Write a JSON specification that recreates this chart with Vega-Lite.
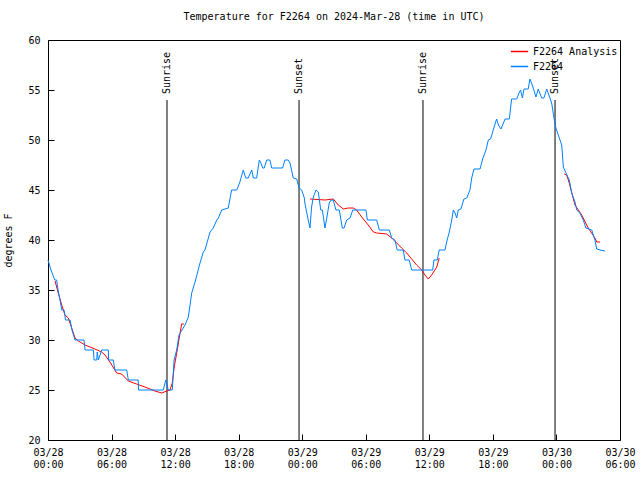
{
  "$schema": "https://vega.github.io/schema/vega-lite/v6.json",
  "width": 572,
  "height": 400,
  "autosize": "none",
  "padding": {"left": 48, "top": 40, "right": 20, "bottom": 40},
  "background": "white",
  "title": {"text": "Temperature for F2264 on 2024-Mar-28 (time in UTC)", "font": "DejaVu Sans Mono", "fontSize": 10, "fontWeight": "normal", "color": "black", "offset": 13, "anchor": "middle"},
  "config": {
    "view": {"stroke": "black", "strokeWidth": 1},
    "axis": {"grid": false, "domain": false, "tickColor": "black", "tickSize": 6, "offset": -6, "labelFont": "DejaVu Sans Mono", "labelFontSize": 10, "labelColor": "black", "titleFont": "DejaVu Sans Mono", "titleFontSize": 10, "titleFontWeight": "normal", "titleColor": "black"},
    "legend": {"labelFont": "DejaVu Sans Mono", "labelFontSize": 10, "labelColor": "black"}
  },
  "datasets": {
    "blue": [
      {"t":"2024-03-28T00:00:00Z","v":38,"s":"F2264"},{"t":"2024-03-28T00:17:00Z","v":37,"s":"F2264"},{"t":"2024-03-28T00:38:00Z","v":36,"s":"F2264"},{"t":"2024-03-28T00:49:00Z","v":36,"s":"F2264"},{"t":"2024-03-28T00:57:00Z","v":35,"s":"F2264"},{"t":"2024-03-28T01:08:00Z","v":34,"s":"F2264"},{"t":"2024-03-28T01:18:00Z","v":33,"s":"F2264"},{"t":"2024-03-28T01:31:00Z","v":33,"s":"F2264"},{"t":"2024-03-28T01:39:00Z","v":32,"s":"F2264"},{"t":"2024-03-28T02:05:00Z","v":32,"s":"F2264"},{"t":"2024-03-28T02:16:00Z","v":31,"s":"F2264"},{"t":"2024-03-28T02:33:00Z","v":30,"s":"F2264"},{"t":"2024-03-28T03:24:00Z","v":30,"s":"F2264"},{"t":"2024-03-28T03:30:00Z","v":29,"s":"F2264"},{"t":"2024-03-28T04:17:00Z","v":29,"s":"F2264"},{"t":"2024-03-28T04:21:00Z","v":28,"s":"F2264"},{"t":"2024-03-28T04:36:00Z","v":28,"s":"F2264"},{"t":"2024-03-28T04:39:00Z","v":28.8,"s":"F2264"},{"t":"2024-03-28T04:45:00Z","v":28,"s":"F2264"},{"t":"2024-03-28T04:55:00Z","v":28.5,"s":"F2264"},{"t":"2024-03-28T05:04:00Z","v":29,"s":"F2264"},{"t":"2024-03-28T05:42:00Z","v":29,"s":"F2264"},{"t":"2024-03-28T05:43:00Z","v":28,"s":"F2264"},{"t":"2024-03-28T06:10:00Z","v":28,"s":"F2264"},{"t":"2024-03-28T06:19:00Z","v":27,"s":"F2264"},{"t":"2024-03-28T07:26:00Z","v":27,"s":"F2264"},{"t":"2024-03-28T07:35:00Z","v":26,"s":"F2264"},{"t":"2024-03-28T08:31:00Z","v":26,"s":"F2264"},{"t":"2024-03-28T08:33:00Z","v":25,"s":"F2264"},{"t":"2024-03-28T10:53:00Z","v":25,"s":"F2264"},{"t":"2024-03-28T11:07:00Z","v":26,"s":"F2264"},{"t":"2024-03-28T11:16:00Z","v":25.5,"s":"F2264"},{"t":"2024-03-28T11:20:00Z","v":25,"s":"F2264"},{"t":"2024-03-28T11:44:00Z","v":25,"s":"F2264"},{"t":"2024-03-28T11:54:00Z","v":28,"s":"F2264"},{"t":"2024-03-28T12:09:00Z","v":29,"s":"F2264"},{"t":"2024-03-28T12:22:00Z","v":30.5,"s":"F2264"},{"t":"2024-03-28T12:39:00Z","v":31,"s":"F2264"},{"t":"2024-03-28T12:56:00Z","v":31.5,"s":"F2264"},{"t":"2024-03-28T13:15:00Z","v":32.3,"s":"F2264"},{"t":"2024-03-28T13:34:00Z","v":34.7,"s":"F2264"},{"t":"2024-03-28T13:53:00Z","v":35.8,"s":"F2264"},{"t":"2024-03-28T14:21:00Z","v":37.7,"s":"F2264"},{"t":"2024-03-28T14:40:00Z","v":38.8,"s":"F2264"},{"t":"2024-03-28T14:49:00Z","v":39,"s":"F2264"},{"t":"2024-03-28T15:18:00Z","v":40.8,"s":"F2264"},{"t":"2024-03-28T15:36:00Z","v":41.2,"s":"F2264"},{"t":"2024-03-28T15:56:00Z","v":42,"s":"F2264"},{"t":"2024-03-28T16:05:00Z","v":42.2,"s":"F2264"},{"t":"2024-03-28T16:24:00Z","v":43,"s":"F2264"},{"t":"2024-03-28T17:01:00Z","v":43.2,"s":"F2264"},{"t":"2024-03-28T17:20:00Z","v":45,"s":"F2264"},{"t":"2024-03-28T17:49:00Z","v":45,"s":"F2264"},{"t":"2024-03-28T18:07:00Z","v":45.8,"s":"F2264"},{"t":"2024-03-28T18:26:00Z","v":47,"s":"F2264"},{"t":"2024-03-28T18:40:00Z","v":46.2,"s":"F2264"},{"t":"2024-03-28T18:54:00Z","v":46.2,"s":"F2264"},{"t":"2024-03-28T19:14:00Z","v":47,"s":"F2264"},{"t":"2024-03-28T19:23:00Z","v":46.2,"s":"F2264"},{"t":"2024-03-28T19:42:00Z","v":46.2,"s":"F2264"},{"t":"2024-03-28T19:57:00Z","v":48,"s":"F2264"},{"t":"2024-03-28T20:06:00Z","v":47.7,"s":"F2264"},{"t":"2024-03-28T20:16:00Z","v":47.2,"s":"F2264"},{"t":"2024-03-28T20:25:00Z","v":47.2,"s":"F2264"},{"t":"2024-03-28T20:39:00Z","v":48,"s":"F2264"},{"t":"2024-03-28T20:57:00Z","v":48,"s":"F2264"},{"t":"2024-03-28T21:07:00Z","v":47.2,"s":"F2264"},{"t":"2024-03-28T22:09:00Z","v":47.2,"s":"F2264"},{"t":"2024-03-28T22:22:00Z","v":48,"s":"F2264"},{"t":"2024-03-28T22:41:00Z","v":48,"s":"F2264"},{"t":"2024-03-28T22:51:00Z","v":47.7,"s":"F2264"},{"t":"2024-03-28T23:09:00Z","v":46.2,"s":"F2264"},{"t":"2024-03-28T23:29:00Z","v":46.1,"s":"F2264"},{"t":"2024-03-28T23:42:00Z","v":45.2,"s":"F2264"},{"t":"2024-03-28T23:57:00Z","v":45,"s":"F2264"},
      {"t":"2024-03-29T00:12:00Z","v":44.2,"s":"F2264"},{"t":"2024-03-29T00:15:00Z","v":43.7,"s":"F2264"},{"t":"2024-03-29T00:34:00Z","v":42,"s":"F2264"},{"t":"2024-03-29T00:44:00Z","v":41.2,"s":"F2264"},{"t":"2024-03-29T00:53:00Z","v":43.3,"s":"F2264"},{"t":"2024-03-29T01:03:00Z","v":44.3,"s":"F2264"},{"t":"2024-03-29T01:18:00Z","v":45,"s":"F2264"},{"t":"2024-03-29T01:31:00Z","v":44.8,"s":"F2264"},{"t":"2024-03-29T01:45:00Z","v":43,"s":"F2264"},{"t":"2024-03-29T01:54:00Z","v":43,"s":"F2264"},{"t":"2024-03-29T02:09:00Z","v":41.2,"s":"F2264"},{"t":"2024-03-29T02:19:00Z","v":42.2,"s":"F2264"},{"t":"2024-03-29T02:33:00Z","v":43.7,"s":"F2264"},{"t":"2024-03-29T02:43:00Z","v":44,"s":"F2264"},{"t":"2024-03-29T02:56:00Z","v":44,"s":"F2264"},{"t":"2024-03-29T03:11:00Z","v":43,"s":"F2264"},{"t":"2024-03-29T03:30:00Z","v":43,"s":"F2264"},{"t":"2024-03-29T03:47:00Z","v":41.2,"s":"F2264"},{"t":"2024-03-29T03:57:00Z","v":41.2,"s":"F2264"},{"t":"2024-03-29T04:12:00Z","v":42,"s":"F2264"},{"t":"2024-03-29T04:31:00Z","v":42.2,"s":"F2264"},{"t":"2024-03-29T04:46:00Z","v":43,"s":"F2264"},{"t":"2024-03-29T06:01:00Z","v":43,"s":"F2264"},{"t":"2024-03-29T06:09:00Z","v":42,"s":"F2264"},{"t":"2024-03-29T07:02:00Z","v":42,"s":"F2264"},{"t":"2024-03-29T07:17:00Z","v":41,"s":"F2264"},{"t":"2024-03-29T08:13:00Z","v":41,"s":"F2264"},{"t":"2024-03-29T08:27:00Z","v":40.2,"s":"F2264"},{"t":"2024-03-29T08:45:00Z","v":40,"s":"F2264"},{"t":"2024-03-29T08:58:00Z","v":39,"s":"F2264"},{"t":"2024-03-29T09:32:00Z","v":39,"s":"F2264"},{"t":"2024-03-29T09:42:00Z","v":38,"s":"F2264"},{"t":"2024-03-29T10:06:00Z","v":38,"s":"F2264"},{"t":"2024-03-29T10:20:00Z","v":37,"s":"F2264"},{"t":"2024-03-29T12:19:00Z","v":37,"s":"F2264"},{"t":"2024-03-29T12:26:00Z","v":38,"s":"F2264"},{"t":"2024-03-29T12:45:00Z","v":38,"s":"F2264"},{"t":"2024-03-29T12:56:00Z","v":39,"s":"F2264"},{"t":"2024-03-29T13:29:00Z","v":39,"s":"F2264"},{"t":"2024-03-29T13:38:00Z","v":39.8,"s":"F2264"},{"t":"2024-03-29T13:53:00Z","v":40.8,"s":"F2264"},{"t":"2024-03-29T14:07:00Z","v":42,"s":"F2264"},{"t":"2024-03-29T14:16:00Z","v":43,"s":"F2264"},{"t":"2024-03-29T14:26:00Z","v":42.7,"s":"F2264"},{"t":"2024-03-29T14:35:00Z","v":42.2,"s":"F2264"},{"t":"2024-03-29T14:44:00Z","v":43,"s":"F2264"},{"t":"2024-03-29T14:59:00Z","v":43.1,"s":"F2264"},{"t":"2024-03-29T15:16:00Z","v":44.1,"s":"F2264"},{"t":"2024-03-29T15:32:00Z","v":44.2,"s":"F2264"},{"t":"2024-03-29T15:50:00Z","v":45,"s":"F2264"},{"t":"2024-03-29T16:00:00Z","v":46.2,"s":"F2264"},{"t":"2024-03-29T16:13:00Z","v":47.1,"s":"F2264"},{"t":"2024-03-29T16:47:00Z","v":47.1,"s":"F2264"},{"t":"2024-03-29T17:02:00Z","v":48.1,"s":"F2264"},{"t":"2024-03-29T17:21:00Z","v":49,"s":"F2264"},{"t":"2024-03-29T17:34:00Z","v":50,"s":"F2264"},{"t":"2024-03-29T17:47:00Z","v":50.1,"s":"F2264"},{"t":"2024-03-29T18:02:00Z","v":51,"s":"F2264"},{"t":"2024-03-29T18:21:00Z","v":52.1,"s":"F2264"},{"t":"2024-03-29T18:31:00Z","v":51.5,"s":"F2264"},{"t":"2024-03-29T18:46:00Z","v":51.1,"s":"F2264"},{"t":"2024-03-29T19:09:00Z","v":52.1,"s":"F2264"},{"t":"2024-03-29T19:33:00Z","v":52.1,"s":"F2264"},{"t":"2024-03-29T19:46:00Z","v":54.1,"s":"F2264"},{"t":"2024-03-29T20:15:00Z","v":54.1,"s":"F2264"},{"t":"2024-03-29T20:28:00Z","v":54.7,"s":"F2264"},{"t":"2024-03-29T20:37:00Z","v":55,"s":"F2264"},{"t":"2024-03-29T20:47:00Z","v":54.2,"s":"F2264"},{"t":"2024-03-29T20:56:00Z","v":55.1,"s":"F2264"},{"t":"2024-03-29T21:20:00Z","v":55.1,"s":"F2264"},{"t":"2024-03-29T21:30:00Z","v":56.1,"s":"F2264"},{"t":"2024-03-29T21:45:00Z","v":55.4,"s":"F2264"},{"t":"2024-03-29T22:04:00Z","v":54.3,"s":"F2264"},{"t":"2024-03-29T22:17:00Z","v":55.1,"s":"F2264"},{"t":"2024-03-29T22:36:00Z","v":54.2,"s":"F2264"},{"t":"2024-03-29T22:49:00Z","v":54.2,"s":"F2264"},{"t":"2024-03-29T23:05:00Z","v":55.1,"s":"F2264"},{"t":"2024-03-29T23:19:00Z","v":54.4,"s":"F2264"},{"t":"2024-03-29T23:33:00Z","v":53.7,"s":"F2264"},{"t":"2024-03-29T23:46:00Z","v":52.2,"s":"F2264"},{"t":"2024-03-29T23:57:00Z","v":51.2,"s":"F2264"},
      {"t":"2024-03-30T00:16:00Z","v":50.2,"s":"F2264"},{"t":"2024-03-30T00:30:00Z","v":49.5,"s":"F2264"},{"t":"2024-03-30T00:39:00Z","v":47.3,"s":"F2264"},{"t":"2024-03-30T00:54:00Z","v":46.7,"s":"F2264"},{"t":"2024-03-30T01:13:00Z","v":46,"s":"F2264"},{"t":"2024-03-30T01:26:00Z","v":44.7,"s":"F2264"},{"t":"2024-03-30T01:45:00Z","v":43.8,"s":"F2264"},{"t":"2024-03-30T01:55:00Z","v":43,"s":"F2264"},{"t":"2024-03-30T02:13:00Z","v":42.7,"s":"F2264"},{"t":"2024-03-30T02:32:00Z","v":42,"s":"F2264"},{"t":"2024-03-30T02:47:00Z","v":41.2,"s":"F2264"},{"t":"2024-03-30T03:20:00Z","v":41,"s":"F2264"},{"t":"2024-03-30T03:38:00Z","v":40,"s":"F2264"},{"t":"2024-03-30T03:48:00Z","v":39.1,"s":"F2264"},{"t":"2024-03-30T04:07:00Z","v":39,"s":"F2264"},{"t":"2024-03-30T04:35:00Z","v":38.9,"s":"F2264"}
    ],
    "red": [
      {"t":"2024-03-28T00:40:00Z","v":35.9,"g":1,"s":"F2264 Analysis"},{"t":"2024-03-28T00:58:00Z","v":34.7,"g":1,"s":"F2264 Analysis"},{"t":"2024-03-28T01:18:00Z","v":33.5,"g":1,"s":"F2264 Analysis"},{"t":"2024-03-28T01:36:00Z","v":32.5,"g":1,"s":"F2264 Analysis"},{"t":"2024-03-28T01:55:00Z","v":32.2,"g":1,"s":"F2264 Analysis"},{"t":"2024-03-28T02:14:00Z","v":31.2,"g":1,"s":"F2264 Analysis"},{"t":"2024-03-28T02:33:00Z","v":30.2,"g":1,"s":"F2264 Analysis"},{"t":"2024-03-28T02:52:00Z","v":29.9,"g":1,"s":"F2264 Analysis"},{"t":"2024-03-28T03:30:00Z","v":29.5,"g":1,"s":"F2264 Analysis"},{"t":"2024-03-28T03:58:00Z","v":29.3,"g":1,"s":"F2264 Analysis"},{"t":"2024-03-28T04:26:00Z","v":29.1,"g":1,"s":"F2264 Analysis"},{"t":"2024-03-28T05:04:00Z","v":28.8,"g":1,"s":"F2264 Analysis"},{"t":"2024-03-28T05:23:00Z","v":28.5,"g":1,"s":"F2264 Analysis"},{"t":"2024-03-28T05:51:00Z","v":27.8,"g":1,"s":"F2264 Analysis"},{"t":"2024-03-28T06:29:00Z","v":26.7,"g":1,"s":"F2264 Analysis"},{"t":"2024-03-28T06:57:00Z","v":26.6,"g":1,"s":"F2264 Analysis"},{"t":"2024-03-28T07:35:00Z","v":25.9,"g":1,"s":"F2264 Analysis"},{"t":"2024-03-28T08:22:00Z","v":25.6,"g":1,"s":"F2264 Analysis"},{"t":"2024-03-28T09:09:00Z","v":25.3,"g":1,"s":"F2264 Analysis"},{"t":"2024-03-28T10:06:00Z","v":24.9,"g":1,"s":"F2264 Analysis"},{"t":"2024-03-28T10:44:00Z","v":24.7,"g":1,"s":"F2264 Analysis"},{"t":"2024-03-28T11:12:00Z","v":24.9,"g":1,"s":"F2264 Analysis"},{"t":"2024-03-28T11:31:00Z","v":25,"g":1,"s":"F2264 Analysis"},{"t":"2024-03-28T11:44:00Z","v":25.7,"g":1,"s":"F2264 Analysis"},{"t":"2024-03-28T11:55:00Z","v":27.3,"g":1,"s":"F2264 Analysis"},{"t":"2024-03-28T12:15:00Z","v":29.3,"g":1,"s":"F2264 Analysis"},{"t":"2024-03-28T12:28:00Z","v":30.7,"g":1,"s":"F2264 Analysis"},{"t":"2024-03-28T12:37:00Z","v":31.6,"g":1,"s":"F2264 Analysis"},{"t":"2024-03-28T12:50:00Z","v":31.6,"g":1,"s":"F2264 Analysis"},
      {"t":"2024-03-29T00:44:00Z","v":44.1,"g":2,"s":"F2264 Analysis"},{"t":"2024-03-29T02:09:00Z","v":44,"g":2,"s":"F2264 Analysis"},{"t":"2024-03-29T02:56:00Z","v":44.1,"g":2,"s":"F2264 Analysis"},{"t":"2024-03-29T03:24:00Z","v":43.5,"g":2,"s":"F2264 Analysis"},{"t":"2024-03-29T03:53:00Z","v":43.1,"g":2,"s":"F2264 Analysis"},{"t":"2024-03-29T04:21:00Z","v":43.2,"g":2,"s":"F2264 Analysis"},{"t":"2024-03-29T04:49:00Z","v":43.2,"g":2,"s":"F2264 Analysis"},{"t":"2024-03-29T05:08:00Z","v":43,"g":2,"s":"F2264 Analysis"},{"t":"2024-03-29T05:37:00Z","v":42.3,"g":2,"s":"F2264 Analysis"},{"t":"2024-03-29T06:14:00Z","v":41.5,"g":2,"s":"F2264 Analysis"},{"t":"2024-03-29T06:43:00Z","v":40.8,"g":2,"s":"F2264 Analysis"},{"t":"2024-03-29T07:02:00Z","v":40.7,"g":2,"s":"F2264 Analysis"},{"t":"2024-03-29T07:58:00Z","v":40.6,"g":2,"s":"F2264 Analysis"},{"t":"2024-03-29T08:27:00Z","v":40.2,"g":2,"s":"F2264 Analysis"},{"t":"2024-03-29T08:55:00Z","v":39.7,"g":2,"s":"F2264 Analysis"},{"t":"2024-03-29T09:23:00Z","v":39.2,"g":2,"s":"F2264 Analysis"},{"t":"2024-03-29T09:52:00Z","v":38.7,"g":2,"s":"F2264 Analysis"},{"t":"2024-03-29T10:20:00Z","v":38.1,"g":2,"s":"F2264 Analysis"},{"t":"2024-03-29T10:48:00Z","v":37.5,"g":2,"s":"F2264 Analysis"},{"t":"2024-03-29T11:17:00Z","v":37,"g":2,"s":"F2264 Analysis"},{"t":"2024-03-29T11:35:00Z","v":36.5,"g":2,"s":"F2264 Analysis"},{"t":"2024-03-29T11:54:00Z","v":36.1,"g":2,"s":"F2264 Analysis"},{"t":"2024-03-29T12:13:00Z","v":36.5,"g":2,"s":"F2264 Analysis"},{"t":"2024-03-29T12:42:00Z","v":37.3,"g":2,"s":"F2264 Analysis"},{"t":"2024-03-29T12:56:00Z","v":38.2,"g":2,"s":"F2264 Analysis"},
      {"t":"2024-03-30T00:44:00Z","v":46.6,"g":3,"s":"F2264 Analysis"},{"t":"2024-03-30T00:58:00Z","v":46.5,"g":3,"s":"F2264 Analysis"},{"t":"2024-03-30T01:11:00Z","v":45.8,"g":3,"s":"F2264 Analysis"},{"t":"2024-03-30T01:45:00Z","v":43.5,"g":3,"s":"F2264 Analysis"},{"t":"2024-03-30T02:23:00Z","v":42.5,"g":3,"s":"F2264 Analysis"},{"t":"2024-03-30T03:00:00Z","v":41.2,"g":3,"s":"F2264 Analysis"},{"t":"2024-03-30T03:38:00Z","v":40.2,"g":3,"s":"F2264 Analysis"},{"t":"2024-03-30T03:48:00Z","v":39.8,"g":3,"s":"F2264 Analysis"},{"t":"2024-03-30T04:07:00Z","v":39.8,"g":3,"s":"F2264 Analysis"}
    ],
    "sun": [
      {"t":"2024-03-28T11:14:00Z","label":"Sunrise"},
      {"t":"2024-03-28T23:42:00Z","label":"Sunset"},
      {"t":"2024-03-29T11:24:00Z","label":"Sunrise"},
      {"t":"2024-03-29T23:52:00Z","label":"Sunset"}
    ]
  },
  "encoding": {
    "x": {"field": "t", "type": "temporal", "scale": {"type": "utc", "domain": ["2024-03-28T00:00:00Z", "2024-03-30T06:00:00Z"]},
      "axis": {"orient": "bottom", "title": null, "tickCount": 9, "labelPadding": 7, "labelFlush": false, "labelOverlap": false,
        "labelExpr": "[timeFormat(datum.value, '%m/%d'), timeFormat(datum.value, '%H:%M')]"}}
  },
  "layer": [
    {
      "data": {"name": "sun"},
      "mark": {"type": "rule", "color": "black", "strokeWidth": 1},
      "encoding": {
        "y": {"datum": 54, "type": "quantitative", "scale": {"domain": [20, 60]}, "axis": {"orient": "left", "title": "degrees F", "values": [20, 25, 30, 35, 40, 45, 50, 55, 60], "labelPadding": 8, "titlePadding": 14}},
        "y2": {"datum": 20}
      }
    },
    {
      "data": {"name": "sun"},
      "mark": {"type": "text", "angle": 270, "align": "left", "baseline": "middle", "font": "DejaVu Sans Mono", "fontSize": 10, "color": "black"},
      "encoding": {
        "y": {"datum": 54.6, "type": "quantitative"},
        "text": {"field": "label"}
      }
    },
    {
      "data": {"name": "red"},
      "mark": {"type": "line", "strokeWidth": 1},
      "encoding": {
        "y": {"field": "v", "type": "quantitative"},
        "detail": {"field": "g"},
        "color": {"field": "s", "type": "nominal", "scale": {"domain": ["F2264 Analysis", "F2264"], "range": ["#ff0000", "#0080ff"]},
          "legend": {"title": null, "orient": "top-right", "symbolType": "stroke", "symbolSize": 300, "offset": 1, "rowPadding": 0, "padding": 1}}
      }
    },
    {
      "data": {"name": "blue"},
      "mark": {"type": "line", "strokeWidth": 1},
      "encoding": {
        "y": {"field": "v", "type": "quantitative"},
        "color": {"field": "s", "type": "nominal"}
      }
    }
  ]
}
